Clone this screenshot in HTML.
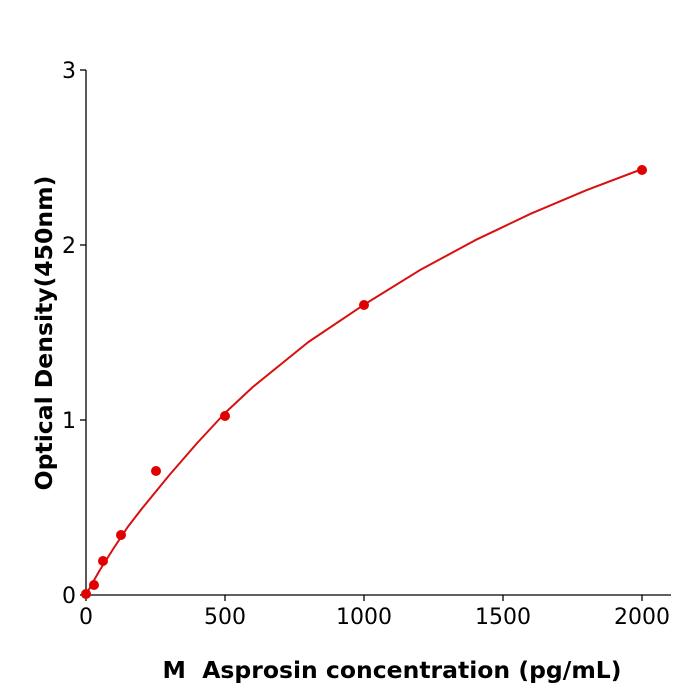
<!DOCTYPE html>
<html><head><meta charset="utf-8"><style>body{margin:0;background:#fff}svg{display:block}</style></head><body>
<svg width="700" height="700" xmlns="http://www.w3.org/2000/svg" font-family="'DejaVu Sans', 'Liberation Sans', sans-serif">
<g stroke="#000" stroke-width="1.3" fill="none">
<line x1="86" y1="70" x2="86" y2="595.5"/>
<line x1="85.5" y1="595" x2="671" y2="595"/>
<line x1="86" y1="595" x2="86" y2="601"/>
<line x1="225" y1="595" x2="225" y2="601"/>
<line x1="364" y1="595" x2="364" y2="601"/>
<line x1="503" y1="595" x2="503" y2="601"/>
<line x1="642" y1="595" x2="642" y2="601"/>
<line x1="80" y1="595" x2="86" y2="595"/>
<line x1="80" y1="420" x2="86" y2="420"/>
<line x1="80" y1="245" x2="86" y2="245"/>
<line x1="80" y1="70" x2="86" y2="70"/>
</g>
<g font-size="22" fill="#000" text-anchor="middle">
<text x="86" y="624">0</text><text x="225" y="624">500</text><text x="364" y="624">1000</text><text x="503" y="624">1500</text><text x="642" y="624">2000</text>
</g>
<g font-size="22" fill="#000" text-anchor="end">
<text x="76" y="603">0</text><text x="76" y="428">1</text><text x="76" y="253">2</text><text x="76" y="78">3</text>
</g>
<text x="392" y="678" font-size="23.5" font-weight="bold" text-anchor="middle">M&#160; Asprosin concentration (pg/mL)</text>
<text transform="translate(52,333) rotate(-90)" font-size="23.5" font-weight="bold" text-anchor="middle">Optical Density(450nm)</text>
<polyline fill="none" stroke="#d81010" stroke-width="2" stroke-linejoin="round" points="86,595 93,582 99.9,570 113.8,548 127.7,527 141.6,509 169.4,475 197.2,443 225,413 252.8,387 308.4,342 364,304.7 419.6,270.3 475.2,240.2 530.8,213.7 586.4,190.2 642,169.1"/>
<g fill="#e00000">
<circle cx="86" cy="594" r="5"/><circle cx="94" cy="585" r="5"/><circle cx="103" cy="561" r="5"/><circle cx="121" cy="535" r="5"/><circle cx="156" cy="471" r="5"/><circle cx="225" cy="416" r="5"/><circle cx="364" cy="305" r="5"/><circle cx="642" cy="170" r="5"/>
</g>
</svg>
</body></html>
